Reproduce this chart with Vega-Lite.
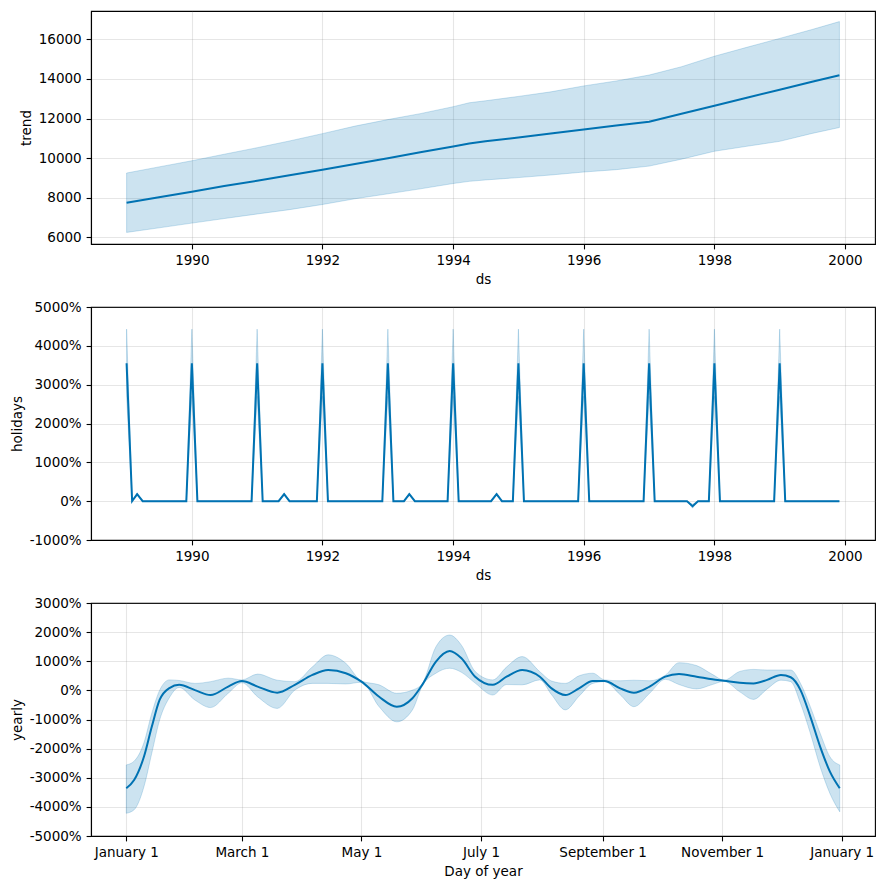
{
 "$schema": "https://vega.github.io/schema/vega-lite/v6.json",
 "padding": {"left": 9, "top": 10, "right": 5, "bottom": 5},
 "bounds": "flush",
 "spacing": 63,
 "datasets": {
  "trend": [
   {"ds":"1989-01-01","trend":7750,"lo":6250,"hi":9250},
   {"ds":"1989-07-01","trend":8030,"lo":6480,"hi":9560},
   {"ds":"1990-01-01","trend":8310,"lo":6720,"hi":9870},
   {"ds":"1990-07-01","trend":8590,"lo":6950,"hi":10200},
   {"ds":"1991-01-01","trend":8860,"lo":7180,"hi":10530},
   {"ds":"1991-07-01","trend":9140,"lo":7400,"hi":10870},
   {"ds":"1992-01-01","trend":9420,"lo":7660,"hi":11240},
   {"ds":"1992-07-01","trend":9710,"lo":7950,"hi":11620},
   {"ds":"1993-01-01","trend":10000,"lo":8200,"hi":11950},
   {"ds":"1993-07-01","trend":10300,"lo":8450,"hi":12250},
   {"ds":"1994-01-01","trend":10590,"lo":8720,"hi":12600},
   {"ds":"1994-04-01","trend":10740,"lo":8830,"hi":12800},
   {"ds":"1994-07-01","trend":10850,"lo":8900,"hi":12900},
   {"ds":"1995-01-01","trend":11050,"lo":9020,"hi":13120},
   {"ds":"1995-07-01","trend":11250,"lo":9150,"hi":13350},
   {"ds":"1996-01-01","trend":11450,"lo":9300,"hi":13650},
   {"ds":"1996-07-01","trend":11650,"lo":9420,"hi":13900},
   {"ds":"1997-01-01","trend":11840,"lo":9600,"hi":14200},
   {"ds":"1997-07-01","trend":12240,"lo":9950,"hi":14620},
   {"ds":"1998-01-01","trend":12650,"lo":10350,"hi":15150},
   {"ds":"1998-07-01","trend":13050,"lo":10600,"hi":15600},
   {"ds":"1999-01-01","trend":13460,"lo":10850,"hi":16050},
   {"ds":"1999-07-01","trend":13860,"lo":11250,"hi":16500},
   {"ds":"1999-12-01","trend":14190,"lo":11550,"hi":16900}
  ],
  "holidays": [
   {"ds":"1989-01-01","h":35.5,"lo":27,"hi":44.3},{"ds":"1989-02-01","h":0,"lo":0,"hi":0},{"ds":"1989-03-01","h":1.8,"lo":1.5,"hi":2.1},{"ds":"1989-04-01","h":0,"lo":0,"hi":0},{"ds":"1989-05-01","h":0,"lo":0,"hi":0},{"ds":"1989-06-01","h":0,"lo":0,"hi":0},{"ds":"1989-07-01","h":0,"lo":0,"hi":0},{"ds":"1989-08-01","h":0,"lo":0,"hi":0},{"ds":"1989-09-01","h":0,"lo":0,"hi":0},{"ds":"1989-10-01","h":0,"lo":0,"hi":0},{"ds":"1989-11-01","h":0,"lo":0,"hi":0},{"ds":"1989-12-01","h":0,"lo":0,"hi":0},
   {"ds":"1990-01-01","h":35.5,"lo":27,"hi":44.3},{"ds":"1990-02-01","h":0,"lo":0,"hi":0},{"ds":"1990-03-01","h":0,"lo":0,"hi":0},{"ds":"1990-04-01","h":0,"lo":0,"hi":0},{"ds":"1990-05-01","h":0,"lo":0,"hi":0},{"ds":"1990-06-01","h":0,"lo":0,"hi":0},{"ds":"1990-07-01","h":0,"lo":0,"hi":0},{"ds":"1990-08-01","h":0,"lo":0,"hi":0},{"ds":"1990-09-01","h":0,"lo":0,"hi":0},{"ds":"1990-10-01","h":0,"lo":0,"hi":0},{"ds":"1990-11-01","h":0,"lo":0,"hi":0},{"ds":"1990-12-01","h":0,"lo":0,"hi":0},
   {"ds":"1991-01-01","h":35.5,"lo":27,"hi":44.3},{"ds":"1991-02-01","h":0,"lo":0,"hi":0},{"ds":"1991-03-01","h":0,"lo":0,"hi":0},{"ds":"1991-04-01","h":0,"lo":0,"hi":0},{"ds":"1991-05-01","h":0,"lo":0,"hi":0},{"ds":"1991-06-01","h":1.8,"lo":1.5,"hi":2.1},{"ds":"1991-07-01","h":0,"lo":0,"hi":0},{"ds":"1991-08-01","h":0,"lo":0,"hi":0},{"ds":"1991-09-01","h":0,"lo":0,"hi":0},{"ds":"1991-10-01","h":0,"lo":0,"hi":0},{"ds":"1991-11-01","h":0,"lo":0,"hi":0},{"ds":"1991-12-01","h":0,"lo":0,"hi":0},
   {"ds":"1992-01-01","h":35.5,"lo":27,"hi":44.3},{"ds":"1992-02-01","h":0,"lo":0,"hi":0},{"ds":"1992-03-01","h":0,"lo":0,"hi":0},{"ds":"1992-04-01","h":0,"lo":0,"hi":0},{"ds":"1992-05-01","h":0,"lo":0,"hi":0},{"ds":"1992-06-01","h":0,"lo":0,"hi":0},{"ds":"1992-07-01","h":0,"lo":0,"hi":0},{"ds":"1992-08-01","h":0,"lo":0,"hi":0},{"ds":"1992-09-01","h":0,"lo":0,"hi":0},{"ds":"1992-10-01","h":0,"lo":0,"hi":0},{"ds":"1992-11-01","h":0,"lo":0,"hi":0},{"ds":"1992-12-01","h":0,"lo":0,"hi":0},
   {"ds":"1993-01-01","h":35.5,"lo":27,"hi":44.3},{"ds":"1993-02-01","h":0,"lo":0,"hi":0},{"ds":"1993-03-01","h":0,"lo":0,"hi":0},{"ds":"1993-04-01","h":0,"lo":0,"hi":0},{"ds":"1993-05-01","h":1.8,"lo":1.5,"hi":2.1},{"ds":"1993-06-01","h":0,"lo":0,"hi":0},{"ds":"1993-07-01","h":0,"lo":0,"hi":0},{"ds":"1993-08-01","h":0,"lo":0,"hi":0},{"ds":"1993-09-01","h":0,"lo":0,"hi":0},{"ds":"1993-10-01","h":0,"lo":0,"hi":0},{"ds":"1993-11-01","h":0,"lo":0,"hi":0},{"ds":"1993-12-01","h":0,"lo":0,"hi":0},
   {"ds":"1994-01-01","h":35.5,"lo":27,"hi":44.3},{"ds":"1994-02-01","h":0,"lo":0,"hi":0},{"ds":"1994-03-01","h":0,"lo":0,"hi":0},{"ds":"1994-04-01","h":0,"lo":0,"hi":0},{"ds":"1994-05-01","h":0,"lo":0,"hi":0},{"ds":"1994-06-01","h":0,"lo":0,"hi":0},{"ds":"1994-07-01","h":0,"lo":0,"hi":0},{"ds":"1994-08-01","h":0,"lo":0,"hi":0},{"ds":"1994-09-01","h":1.8,"lo":1.5,"hi":2.1},{"ds":"1994-10-01","h":0,"lo":0,"hi":0},{"ds":"1994-11-01","h":0,"lo":0,"hi":0},{"ds":"1994-12-01","h":0,"lo":0,"hi":0},
   {"ds":"1995-01-01","h":35.5,"lo":27,"hi":44.3},{"ds":"1995-02-01","h":0,"lo":0,"hi":0},{"ds":"1995-03-01","h":0,"lo":0,"hi":0},{"ds":"1995-04-01","h":0,"lo":0,"hi":0},{"ds":"1995-05-01","h":0,"lo":0,"hi":0},{"ds":"1995-06-01","h":0,"lo":0,"hi":0},{"ds":"1995-07-01","h":0,"lo":0,"hi":0},{"ds":"1995-08-01","h":0,"lo":0,"hi":0},{"ds":"1995-09-01","h":0,"lo":0,"hi":0},{"ds":"1995-10-01","h":0,"lo":0,"hi":0},{"ds":"1995-11-01","h":0,"lo":0,"hi":0},{"ds":"1995-12-01","h":0,"lo":0,"hi":0},
   {"ds":"1996-01-01","h":35.5,"lo":27,"hi":44.3},{"ds":"1996-02-01","h":0,"lo":0,"hi":0},{"ds":"1996-03-01","h":0,"lo":0,"hi":0},{"ds":"1996-04-01","h":0,"lo":0,"hi":0},{"ds":"1996-05-01","h":0,"lo":0,"hi":0},{"ds":"1996-06-01","h":0,"lo":0,"hi":0},{"ds":"1996-07-01","h":0,"lo":0,"hi":0},{"ds":"1996-08-01","h":0,"lo":0,"hi":0},{"ds":"1996-09-01","h":0,"lo":0,"hi":0},{"ds":"1996-10-01","h":0,"lo":0,"hi":0},{"ds":"1996-11-01","h":0,"lo":0,"hi":0},{"ds":"1996-12-01","h":0,"lo":0,"hi":0},
   {"ds":"1997-01-01","h":35.5,"lo":27,"hi":44.3},{"ds":"1997-02-01","h":0,"lo":0,"hi":0},{"ds":"1997-03-01","h":0,"lo":0,"hi":0},{"ds":"1997-04-01","h":0,"lo":0,"hi":0},{"ds":"1997-05-01","h":0,"lo":0,"hi":0},{"ds":"1997-06-01","h":0,"lo":0,"hi":0},{"ds":"1997-07-01","h":0,"lo":0,"hi":0},{"ds":"1997-08-01","h":0,"lo":0,"hi":0},{"ds":"1997-09-01","h":-1.3,"lo":-1.8,"hi":-0.8},{"ds":"1997-10-01","h":0,"lo":0,"hi":0},{"ds":"1997-11-01","h":0,"lo":0,"hi":0},{"ds":"1997-12-01","h":0,"lo":0,"hi":0},
   {"ds":"1998-01-01","h":35.5,"lo":27,"hi":44.3},{"ds":"1998-02-01","h":0,"lo":0,"hi":0},{"ds":"1998-03-01","h":0,"lo":0,"hi":0},{"ds":"1998-04-01","h":0,"lo":0,"hi":0},{"ds":"1998-05-01","h":0,"lo":0,"hi":0},{"ds":"1998-06-01","h":0,"lo":0,"hi":0},{"ds":"1998-07-01","h":0,"lo":0,"hi":0},{"ds":"1998-08-01","h":0,"lo":0,"hi":0},{"ds":"1998-09-01","h":0,"lo":0,"hi":0},{"ds":"1998-10-01","h":0,"lo":0,"hi":0},{"ds":"1998-11-01","h":0,"lo":0,"hi":0},{"ds":"1998-12-01","h":0,"lo":0,"hi":0},
   {"ds":"1999-01-01","h":35.5,"lo":27,"hi":44.3},{"ds":"1999-02-01","h":0,"lo":0,"hi":0},{"ds":"1999-03-01","h":0,"lo":0,"hi":0},{"ds":"1999-04-01","h":0,"lo":0,"hi":0},{"ds":"1999-05-01","h":0,"lo":0,"hi":0},{"ds":"1999-06-01","h":0,"lo":0,"hi":0},{"ds":"1999-07-01","h":0,"lo":0,"hi":0},{"ds":"1999-08-01","h":0,"lo":0,"hi":0},{"ds":"1999-09-01","h":0,"lo":0,"hi":0},{"ds":"1999-10-01","h":0,"lo":0,"hi":0},{"ds":"1999-11-01","h":0,"lo":0,"hi":0},{"ds":"1999-12-01","h":0,"lo":0,"hi":0}
  ],
  "yearly": [
   {"ds":"2017-01-01","y":-33.6,"lo":-42.2,"hi":-25.6},
   {"ds":"2017-01-05","y":-30.8,"lo":-41.0,"hi":-24.3},
   {"ds":"2017-01-10","y":-22.8,"lo":-33.1,"hi":-18.0},
   {"ds":"2017-01-14","y":-12.5,"lo":-21.6,"hi":-7.9},
   {"ds":"2017-01-18","y":-3.3,"lo":-10.2,"hi":0.0},
   {"ds":"2017-01-23","y":0.8,"lo":-2.5,"hi":3.6},
   {"ds":"2017-01-28","y":1.9,"lo":1.0,"hi":3.4},
   {"ds":"2017-02-05","y":0.1,"lo":-3.3,"hi":2.4},
   {"ds":"2017-02-13","y":-1.6,"lo":-5.9,"hi":3.0},
   {"ds":"2017-02-22","y":1.3,"lo":-1.0,"hi":4.2},
   {"ds":"2017-03-01","y":3.2,"lo":2.6,"hi":3.6},
   {"ds":"2017-03-09","y":1.3,"lo":-2.2,"hi":5.6},
   {"ds":"2017-03-19","y":-0.8,"lo":-6.2,"hi":3.5},
   {"ds":"2017-03-28","y":1.9,"lo":0.1,"hi":3.0},
   {"ds":"2017-04-06","y":5.3,"lo":2.4,"hi":8.1},
   {"ds":"2017-04-14","y":7.0,"lo":2.4,"hi":12.2},
   {"ds":"2017-04-23","y":5.9,"lo":2.2,"hi":9.3},
   {"ds":"2017-05-01","y":3.0,"lo":2.8,"hi":3.2},
   {"ds":"2017-05-10","y":-2.2,"lo":-5.6,"hi":1.9},
   {"ds":"2017-05-19","y":-5.6,"lo":-10.8,"hi":-1.0},
   {"ds":"2017-05-27","y":-2.7,"lo":-6.7,"hi":0.1},
   {"ds":"2017-06-01","y":1.9,"lo":1.5,"hi":2.3},
   {"ds":"2017-06-08","y":9.9,"lo":5.9,"hi":15.0},
   {"ds":"2017-06-15","y":13.5,"lo":7.6,"hi":19.0},
   {"ds":"2017-06-21","y":11.0,"lo":6.2,"hi":15.5},
   {"ds":"2017-06-28","y":4.7,"lo":2.5,"hi":6.5},
   {"ds":"2017-07-07","y":1.9,"lo":-1.6,"hi":3.6},
   {"ds":"2017-07-14","y":4.7,"lo":2.0,"hi":8.0},
   {"ds":"2017-07-22","y":7.0,"lo":1.9,"hi":11.6},
   {"ds":"2017-07-31","y":4.7,"lo":3.6,"hi":6.4},
   {"ds":"2017-08-06","y":0.7,"lo":-1.5,"hi":3.2},
   {"ds":"2017-08-13","y":-1.6,"lo":-6.7,"hi":2.4},
   {"ds":"2017-08-20","y":0.7,"lo":-2.0,"hi":5.0},
   {"ds":"2017-08-27","y":3.2,"lo":2.4,"hi":5.9},
   {"ds":"2017-09-02","y":3.2,"lo":3.0,"hi":3.6},
   {"ds":"2017-09-10","y":0.7,"lo":-1.5,"hi":3.3},
   {"ds":"2017-09-17","y":-0.8,"lo":-5.6,"hi":3.5},
   {"ds":"2017-09-25","y":1.3,"lo":-1.0,"hi":3.3},
   {"ds":"2017-10-03","y":4.7,"lo":3.8,"hi":5.2},
   {"ds":"2017-10-10","y":5.6,"lo":2.0,"hi":9.5},
   {"ds":"2017-10-19","y":4.7,"lo":0.5,"hi":8.5},
   {"ds":"2017-10-27","y":3.8,"lo":2.0,"hi":5.5},
   {"ds":"2017-11-02","y":3.3,"lo":3.1,"hi":3.5},
   {"ds":"2017-11-10","y":2.6,"lo":-0.5,"hi":6.5},
   {"ds":"2017-11-17","y":2.4,"lo":-3.1,"hi":7.2},
   {"ds":"2017-11-24","y":3.6,"lo":0.5,"hi":7.0},
   {"ds":"2017-12-01","y":5.3,"lo":3.5,"hi":7.0},
   {"ds":"2017-12-06","y":4.5,"lo":3.0,"hi":7.0},
   {"ds":"2017-12-11","y":0.1,"lo":-4.5,"hi":2.4},
   {"ds":"2017-12-16","y":-9.0,"lo":-14.7,"hi":-5.6},
   {"ds":"2017-12-21","y":-19.3,"lo":-26.2,"hi":-14.7},
   {"ds":"2017-12-26","y":-27.9,"lo":-35.4,"hi":-22.8},
   {"ds":"2017-12-31","y":-33.6,"lo":-41.7,"hi":-25.6}
  ]
 },
 "vconcat": [
  {
   "width": 784, "height": 233,
   "data": {"name": "trend"},
   "encoding": {
    "x": {"field": "ds", "type": "temporal",
     "scale": {"type": "utc", "domain": [{"year":1988,"month":6,"date":16,"utc":true},{"year":2000,"month":6,"date":17,"utc":true}], "nice": false},
     "axis": {"title": "ds", "format": "%Y", "tickCount": 30, "values": [{"year":1990,"utc":true},{"year":1992,"utc":true},{"year":1994,"utc":true},{"year":1996,"utc":true},{"year":1998,"utc":true},{"year":2000,"utc":true}]}}
   },
   "layer": [
    {"mark": {"type": "area", "fill": "#0072B2", "fillOpacity": 0.2, "stroke": "#0072B2", "strokeOpacity": 0.2, "strokeWidth": 1},
     "encoding": {
      "y": {"field": "lo", "type": "quantitative", "title": "trend",
       "scale": {"domain": [5665, 17435], "nice": false, "zero": false},
       "axis": {"values": [6000, 8000, 10000, 12000, 14000, 16000], "format": "d", "tickCount": 30}},
      "y2": {"field": "hi"}}},
    {"mark": {"type": "line", "color": "#0072B2", "strokeWidth": 2},
     "encoding": {"y": {"field": "trend", "type": "quantitative", "title": "trend"}}}
   ]
  },
  {
   "width": 784, "height": 233,
   "data": {"name": "holidays"},
   "encoding": {
    "x": {"field": "ds", "type": "temporal",
     "scale": {"type": "utc", "domain": [{"year":1988,"month":6,"date":16,"utc":true},{"year":2000,"month":6,"date":17,"utc":true}], "nice": false},
     "axis": {"title": "ds", "format": "%Y", "tickCount": 30, "values": [{"year":1990,"utc":true},{"year":1992,"utc":true},{"year":1994,"utc":true},{"year":1996,"utc":true},{"year":1998,"utc":true},{"year":2000,"utc":true}]}}
   },
   "layer": [
    {"mark": {"type": "area", "fill": "#0072B2", "fillOpacity": 0.2, "stroke": "#0072B2", "strokeOpacity": 0.2, "strokeWidth": 1},
     "encoding": {
      "y": {"field": "lo", "type": "quantitative", "title": "holidays",
       "scale": {"domain": [-10, 50], "nice": false, "zero": false},
       "axis": {"values": [-10, 0, 10, 20, 30, 40, 50], "tickCount": 30, "labelExpr": "toString(round(datum.value*100)) + '%'"}},
      "y2": {"field": "hi"}}},
    {"mark": {"type": "line", "color": "#0072B2", "strokeWidth": 2},
     "encoding": {"y": {"field": "h", "type": "quantitative", "title": "holidays"}}}
   ]
  },
  {
   "width": 784, "height": 233,
   "data": {"name": "yearly"},
   "encoding": {
    "x": {"field": "ds", "type": "temporal",
     "scale": {"type": "utc", "domain": [{"year":2016,"month":12,"date":14,"utc":true},{"year":2018,"month":1,"date":18,"utc":true}], "nice": false},
     "axis": {"title": "Day of year", "format": "%B %-d", "tickCount": 30, "values": [{"year":2017,"month":1,"date":1,"utc":true},{"year":2017,"month":3,"date":1,"utc":true},{"year":2017,"month":5,"date":1,"utc":true},{"year":2017,"month":7,"date":1,"utc":true},{"year":2017,"month":9,"date":1,"utc":true},{"year":2017,"month":11,"date":1,"utc":true},{"year":2018,"month":1,"date":1,"utc":true}]}}
   },
   "layer": [
    {"mark": {"type": "area", "interpolate": "monotone", "fill": "#0072B2", "fillOpacity": 0.2, "stroke": "#0072B2", "strokeOpacity": 0.2, "strokeWidth": 1},
     "encoding": {
      "y": {"field": "lo", "type": "quantitative", "title": "yearly",
       "scale": {"domain": [-50, 30], "nice": false, "zero": false},
       "axis": {"values": [-50, -40, -30, -20, -10, 0, 10, 20, 30], "tickCount": 30, "labelExpr": "toString(round(datum.value*100)) + '%'"}},
      "y2": {"field": "hi"}}},
    {"mark": {"type": "line", "interpolate": "monotone", "color": "#0072B2", "strokeWidth": 2},
     "encoding": {"y": {"field": "y", "type": "quantitative", "title": "yearly"}}}
   ]
  }
 ],
 "config": {
  "font": "DejaVu Sans",
  "view": {"stroke": "black", "strokeWidth": 1.1},
  "axis": {
   "domainColor": "black", "domainWidth": 1.1,
   "tickColor": "black", "tickWidth": 1.1, "tickSize": 4.9,
   "labelPadding": 4.9, "labelFontSize": 13.5, "labelColor": "black", "labelFlush": false, "labelOverlap": false,
   "titleFontSize": 13.5, "titleFontWeight": "normal", "titleColor": "black", "titlePadding": 5,
   "gridColor": "#808080", "gridOpacity": 0.2, "gridWidth": 1.1
  }
 }
}
